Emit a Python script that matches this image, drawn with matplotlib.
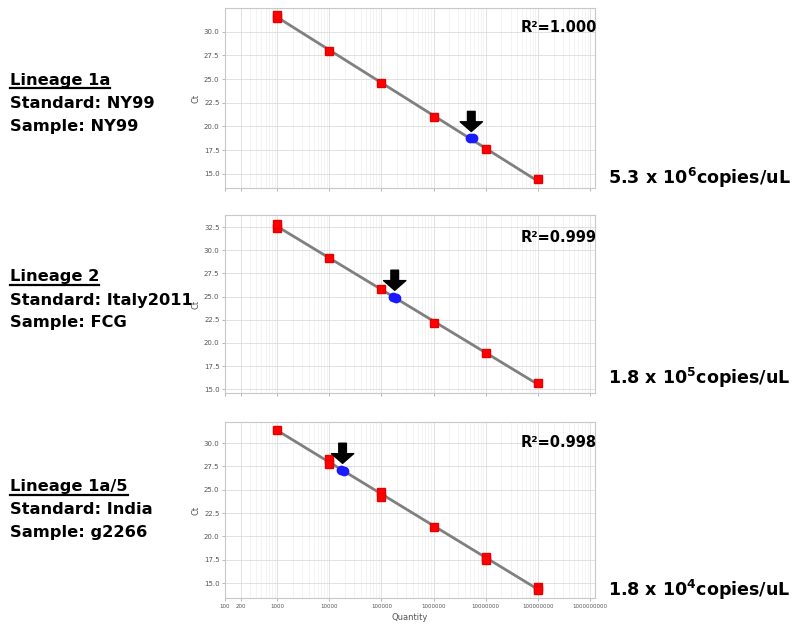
import numpy as np
import matplotlib
matplotlib.use("Agg")
import matplotlib.pyplot as plt
from matplotlib.lines import Line2D
from matplotlib.ticker import FixedLocator, LogLocator, NullFormatter

# standard curve data (quantity, Ct), replicates included
std_qty = [1e3, 1e3, 1e4, 1e5, 1e6, 1e7, 1e8]
ct_1a = [31.4, 31.8, 28.0, 24.6, 21.0, 17.6, 14.4]
ct_2 = [32.4, 32.8, 29.2, 25.8, 22.1, 18.9, 15.7]
std_qty_5 = [1e3, 1e4, 1e4, 1e5, 1e5, 1e6, 1e7, 1e7, 1e8, 1e8]
ct_1a5 = [31.4, 28.3, 27.7, 24.8, 24.2, 21.0, 17.8, 17.5, 14.6, 14.3]

# unknown samples (blue)
smp_qty = [[5.0e6, 5.6e6], [1.7e5, 1.9e5], [1.7e4, 1.9e4]]
smp_ct = [[18.8, 18.75], [25.0, 24.8], [27.15, 27.05]]

r2_labels = ["R²=1.000", "R²=0.999", "R²=0.998"]
conc_labels = [r"5.3 x 10$^{6}$copies/uL", r"1.8 x 10$^{5}$copies/uL", r"1.8 x 10$^{4}$copies/uL"]
left_labels = [["Lineage 1a", "Standard: NY99", "Sample: NY99"],
               ["Lineage 2", "Standard: Italy2011", "Sample: FCG"],
               ["Lineage 1a/5", "Standard: India", "Sample: g2266"]]

y_ticks = [[15, 17.5, 20, 22.5, 25, 27.5, 30],
           [15, 17.5, 20, 22.5, 25, 27.5, 30, 32.5],
           [15, 17.5, 20, 22.5, 25, 27.5, 30]]
y_lims = [(13.5, 32.5), (14.6, 33.8), (13.4, 32.25)]
x_ticks = [100, 200, 1000, 10000, 100000, 1000000, 10000000, 100000000, 1000000000]

W, H = 795, 625
fig = plt.figure(figsize=(W / 100, H / 100), dpi=100)
plt.rcParams['mathtext.default'] = 'bf'

def px(x, y):
    return x / W, 1 - y / H

# axes boxes in pixels: (left, top, right, bottom)
boxes = [(225, 8, 595, 188), (225, 215, 595, 393), (225, 422, 595, 598)]
datasets = [(std_qty, ct_1a), (std_qty, ct_2), (std_qty_5, ct_1a5)]
r2_y = [0.894, 0.876, 0.886]

for i, (l, t, r, b) in enumerate(boxes):
    ax = fig.add_axes([l / W, 1 - b / H, (r - l) / W, (b - t) / H])
    q, ct = datasets[i]
    ax.set_xscale("log")
    ax.set_xlim(100, 1.25e9)
    ax.set_ylim(*y_lims[i])

    # fitted standard curve
    slope, icpt = np.polyfit(np.log10(q), ct, 1)
    xf = np.array([min(q), max(q)])
    ax.plot(xf, slope * np.log10(xf) + icpt, color="#7f7f7f", lw=2, zorder=2)
    ax.plot(q, ct, "s", color="#ff0000", ms=5.5, mec="#e80000", zorder=3)
    ax.plot(smp_qty[i], smp_ct[i], "o", color="#1a1aff", ms=6, zorder=4)

    # black arrow above the sample
    xs = np.mean(smp_qty[i])
    ys = np.max(smp_ct[i])
    ax.annotate("", xy=(xs, ys), xytext=(0, 19), textcoords="offset points",
                xycoords="data",
                arrowprops=dict(arrowstyle="simple,head_width=1.6,head_length=0.7,tail_width=0.55",
                                color="black", shrinkA=0, shrinkB=4.5))

    ax.set_yticks(y_ticks[i])
    ax.set_yticklabels(["%.1f" % v for v in y_ticks[i]], fontsize=5, color="#555555")
    ax.xaxis.set_major_locator(FixedLocator(x_ticks))
    ax.xaxis.set_minor_locator(LogLocator(base=10, subs=np.arange(2, 10)))
    ax.xaxis.set_minor_formatter(NullFormatter())
    if i == 2:
        ax.set_xticklabels([str(v) for v in x_ticks], fontsize=4, color="#555555")
        ax.set_xlabel("Quantity", fontsize=6, color="#555555", labelpad=3)
    else:
        ax.set_xticklabels([])
    ax.set_ylabel("Ct", fontsize=6, color="#555555", labelpad=2)
    ax.tick_params(length=2, color="#aaaaaa", width=0.6, pad=2)
    ax.tick_params(which="minor", length=0)
    ax.grid(True, which="major", color="#dcdcdc", lw=0.6)
    ax.grid(True, which="minor", axis="x", color="#efefef", lw=0.5)
    for s in ax.spines.values():
        s.set_color("#c8c8c8")
        s.set_linewidth(0.8)

    ax.text(1.005, r2_y[i], r2_labels[i], transform=ax.transAxes, ha="right", va="center",
            fontsize=10.5, fontweight="bold", family="DejaVu Sans")

# concentration labels on the right
conc_y = [178, 378, 590]
for i in range(3):
    fig.text(*px(608, conc_y[i]), conc_labels[i], fontsize=12.6, fontweight="bold",
             va="center", ha="left", family="DejaVu Sans")

# left text blocks
block_y = [80, 277, 487]
texts = []
for i in range(3):
    for j, s in enumerate(left_labels[i]):
        t = fig.text(*px(10, block_y[i] + 23 * j), s, fontsize=11.7, fontweight="bold",
                     va="center", ha="left", family="DejaVu Sans")
        if j == 0:
            texts.append(t)

fig.canvas.draw()
rend = fig.canvas.get_renderer()
for t in texts:
    bb = t.get_window_extent(rend)
    yl = bb.y0 - 0.5
    fig.add_artist(Line2D([bb.x0 / W, bb.x1 / W], [yl / H, yl / H], color="black", lw=1.6,
                          transform=fig.transFigure))

fig.savefig("out.png", dpi=100)
